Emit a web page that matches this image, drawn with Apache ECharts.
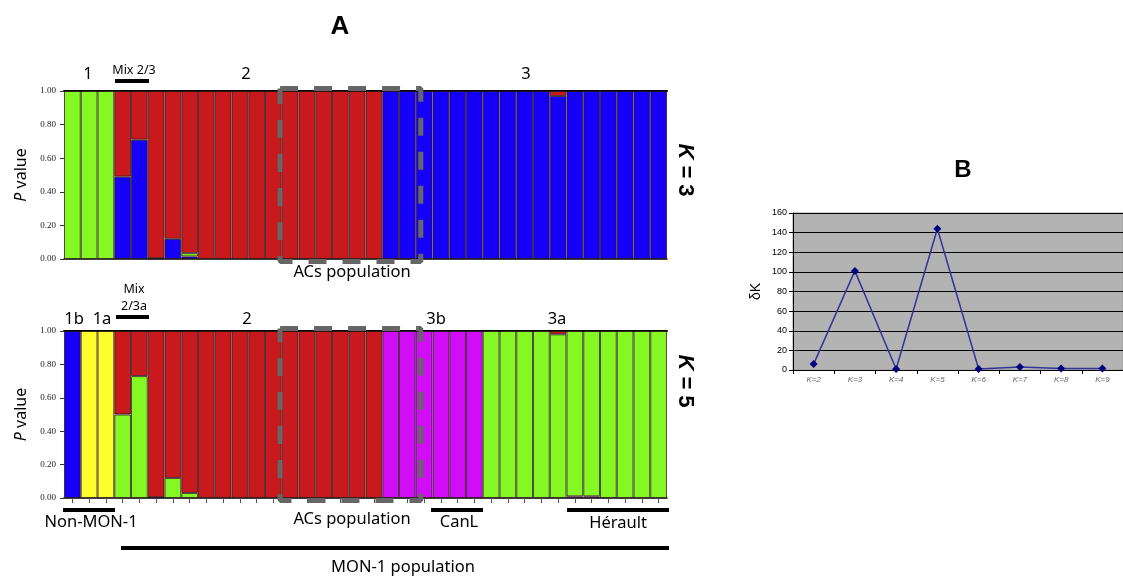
<!DOCTYPE html>
<html>
<head>
<meta charset="utf-8">
<title>STRUCTURE K=3 / K=5 and delta K</title>
<script src="https://cdn.jsdelivr.net/npm/echarts@6/dist/echarts.min.js"></script>
</head>
<body style="margin:0;background:#fff">
<div id="main" style="width:1123px;height:577px;"></div>
<script>
// 36 individuals
var individuals = [];
for (var i = 1; i <= 36; i++) individuals.push(String(i));

// K = 3 memberships
var k3Blue  = [0,0,0,0.49,0.71,0.005,0.12,0.015, 0,0,0,0,0,0,0,0,0,0,0, 1,1,1,1,1,1,1,1,1,1,0.97,1,1,1,1,1,1];
var k3Green = [1,1,1,0,0,0,0,0.02, 0,0,0,0,0,0,0,0,0,0,0, 0,0,0,0,0,0,0,0,0,0,0,0,0,0,0,0,0];
var k3Red   = [0,0,0,0.51,0.29,0.995,0.88,0.965, 1,1,1,1,1,1,1,1,1,1,1, 0,0,0,0,0,0,0,0,0,0,0.03,0,0,0,0,0,0];

// K = 5 memberships
var k5Magenta = [0,0,0,0,0,0,0,0, 0,0,0,0,0,0,0,0,0,0,0, 1,1,1,1,1,1, 0,0,0,0,0,0.01,0.01,0,0,0,0];
var k5Green   = [0,0,0,0.5,0.73,0.005,0.12,0.03, 0,0,0,0,0,0,0,0,0,0,0, 0,0,0,0,0,0, 1,1,1,1,0.98,0.99,0.99,1,1,1,1];
var k5Red     = [0,0,0,0.5,0.27,0.995,0.88,0.97, 1,1,1,1,1,1,1,1,1,1,1, 0,0,0,0,0,0, 0,0,0,0,0.02,0,0,0,0,0,0];
var k5Blue    = [1,0,0,0,0,0,0,0, 0,0,0,0,0,0,0,0,0,0,0, 0,0,0,0,0,0, 0,0,0,0,0,0,0,0,0,0,0];
var k5Yellow  = [0,1,1,0,0,0,0,0, 0,0,0,0,0,0,0,0,0,0,0, 0,0,0,0,0,0, 0,0,0,0,0,0,0,0,0,0,0];

// delta K
var kLabels = ['K=2','K=3','K=4','K=5','K=6','K=7','K=8','K=9'];
var deltaK = [6, 101, 1, 144, 1, 3, 1.5, 1.5];

// ACs population box (in individual units, 0..36)
var acsFrom = 12.9, acsTo = 21.3;

var C = {green:'#85f723', red:'#c9191d', blue:'#1500f5', yellow:'#ffff2e', magenta:'#d10cf7'};

function bar(name, arr, color, xi, yi, stack) {
    return {
        type: 'bar', name: name, stack: stack, xAxisIndex: xi, yAxisIndex: yi,
        barCategoryGap: '0%',
        data: arr.map(function (v) { return v || '-'; }),
        itemStyle: {color: color, borderColor: 'rgba(40,20,20,0.75)', borderWidth: 1}
    };
}
function box(xi, yi) {
    return {
        type: 'line', xAxisIndex: xi, yAxisIndex: yi, clip: false, symbol: 'none', z: 5,
        data: [[acsFrom,1.015],[acsTo,1.015],[acsTo,-0.015],[acsFrom,-0.015],[acsFrom,1.015]],
        lineStyle: {color: '#666', width: 5, type: [18, 16], cap: 'butt'}
    };
}
function pAxis(gi) {
    return {
        type: 'value', gridIndex: gi, min: 0, max: 1, interval: 0.2,
        name: '{i|P} value', nameLocation: 'middle', nameGap: 24,
        nameTextStyle: {fontFamily: 'Noto Sans', fontSize: 16, color: '#000', rich: {i: {fontStyle: 'italic', fontFamily: 'Noto Sans', fontSize: 16}}},
        axisLine: {show: false}, splitLine: {show: false},
        axisTick: {show: true, length: 4, lineStyle: {color: '#333'}},
        axisLabel: {margin: 8, fontFamily: 'Liberation Sans Narrow', fontSize: 9, color: '#222',
            formatter: function (v) { return v.toFixed(2); }}
    };
}
function topAxis(gi) {
    return {
        type: 'value', gridIndex: gi, position: 'top', min: 0, max: 36,
        axisLine: {show: true, onZero: false, lineStyle: {color: '#000', width: 2}},
        axisTick: {show: false}, axisLabel: {show: false}, splitLine: {show: false}
    };
}

var font = 'Noto Sans';
function txt(s, x, y, size, extra) {
    var st = {text: s, fontFamily: font, fontSize: size, fill: '#000', textAlign: 'center', textVerticalAlign: 'middle'};
    for (var k in extra) st[k] = extra[k];
    return {type: 'text', x: x, y: y, style: st, z: 10};
}
function hbar(x1, x2, y) {
    return {type: 'line', shape: {x1: x1, y1: y, x2: x2, y2: y}, style: {stroke: '#000', lineWidth: 4}, z: 10};
}
function kText(n, x, y) {
    return {type: 'text', x: x, y: y, rotation: -Math.PI / 2, z: 10,
        style: {text: '{k|K} = ' + n, textAlign: 'center', textVerticalAlign: 'middle',
            fontFamily: 'Liberation Sans', fontWeight: 'bold', fontSize: 22, fill: '#000',
            rich: {k: {fontStyle: 'italic', fontWeight: 'bold', fontFamily: 'Liberation Sans', fontSize: 22}}}};
}

var myChart = echarts.init(document.getElementById('main'));
var option = {
    animation: false,
    grid: [
        {left: 64, top: 91, width: 603, height: 168},
        {left: 64, top: 331, width: 603, height: 167},
        {left: 793, top: 213, width: 341, height: 157, show: true, backgroundColor: '#b3b3b3', borderColor: '#9a9a9a', borderWidth: 1}
    ],
    xAxis: [
        {type: 'category', gridIndex: 0, data: individuals,
            axisLine: {lineStyle: {color: '#000', width: 1.5}}, axisTick: {show: false}, axisLabel: {show: false}},
        {type: 'category', gridIndex: 1, data: individuals,
            axisLine: {lineStyle: {color: '#000', width: 1.5}},
            axisTick: {show: true, interval: 0, alignWithLabel: true, length: 5, lineStyle: {color: '#555'}},
            axisLabel: {show: false, interval: 0}},
        topAxis(0),
        topAxis(1),
        {type: 'category', gridIndex: 2, data: kLabels,
            axisLine: {lineStyle: {color: '#000', width: 1}},
            axisTick: {show: true, length: 4, lineStyle: {color: '#000'}},
            axisLabel: {margin: 6, fontFamily: 'Liberation Sans', fontStyle: 'italic', fontSize: 8, color: '#666'}}
    ],
    yAxis: [
        pAxis(0),
        pAxis(1),
        {type: 'value', gridIndex: 2, min: 0, max: 160, interval: 20,
            name: 'δK', nameLocation: 'middle', nameGap: 30,
            nameTextStyle: {fontFamily: 'Liberation Sans', fontSize: 14, color: '#000'},
            axisLine: {show: true, lineStyle: {color: '#000'}},
            axisTick: {show: true, length: 4, lineStyle: {color: '#000'}},
            axisLabel: {margin: 6, fontFamily: 'Liberation Sans', fontSize: 9, color: '#000'},
            splitLine: {lineStyle: {color: '#000', width: 1}}}
    ],
    series: [
        bar('K3-1', k3Blue, C.blue, 0, 0, 'k3'),
        bar('K3-2', k3Green, C.green, 0, 0, 'k3'),
        bar('K3-3', k3Red, C.red, 0, 0, 'k3'),
        box(2, 0),
        bar('K5-1', k5Magenta, C.magenta, 1, 1, 'k5'),
        bar('K5-2', k5Green, C.green, 1, 1, 'k5'),
        bar('K5-3', k5Red, C.red, 1, 1, 'k5'),
        bar('K5-4', k5Blue, C.blue, 1, 1, 'k5'),
        bar('K5-5', k5Yellow, C.yellow, 1, 1, 'k5'),
        box(3, 1),
        {type: 'line', xAxisIndex: 4, yAxisIndex: 2, data: deltaK,
            symbol: 'diamond', symbolSize: 8,
            lineStyle: {color: '#333399', width: 1.5},
            itemStyle: {color: '#000080'}}
    ],
    graphic: [
        txt('A', 340, 27, 26, {fontFamily: 'Liberation Sans', fontWeight: 'bold'}),
        txt('B', 963, 170, 24, {fontFamily: 'Liberation Sans', fontWeight: 'bold'}),
        // K = 3 labels
        txt('1', 88, 74, 16.5),
        txt('Mix 2/3', 134, 70, 12.5),
        hbar(115, 149, 81),
        txt('2', 246, 74, 16.5),
        txt('3', 526, 74, 16.5),
        txt('ACs population', 352, 272, 16.5),
        kText(3, 685, 170),
        // K = 5 labels
        txt('Mix', 134, 289, 12.5),
        txt('2/3a', 134, 306, 12.5),
        hbar(116, 149, 317),
        txt('1b', 74, 319, 16.5),
        txt('1a', 102, 319, 16.5),
        txt('2', 247, 319, 16.5),
        txt('3b', 436, 319, 16.5),
        txt('3a', 557, 319, 16.5),
        kText(5, 685, 381),
        hbar(63, 115, 510),
        txt('Non-MON-1', 91, 522, 16.5),
        txt('ACs population', 352, 519, 16.5),
        hbar(431, 483, 510),
        txt('CanL', 459, 522, 16.5),
        hbar(567, 669, 510),
        txt('Hérault', 618, 523, 16.5),
        hbar(121, 669, 548),
        txt('MON-1 population', 403, 567, 16.5)
    ]
};
myChart.setOption(option);
</script>
</body>
</html>
